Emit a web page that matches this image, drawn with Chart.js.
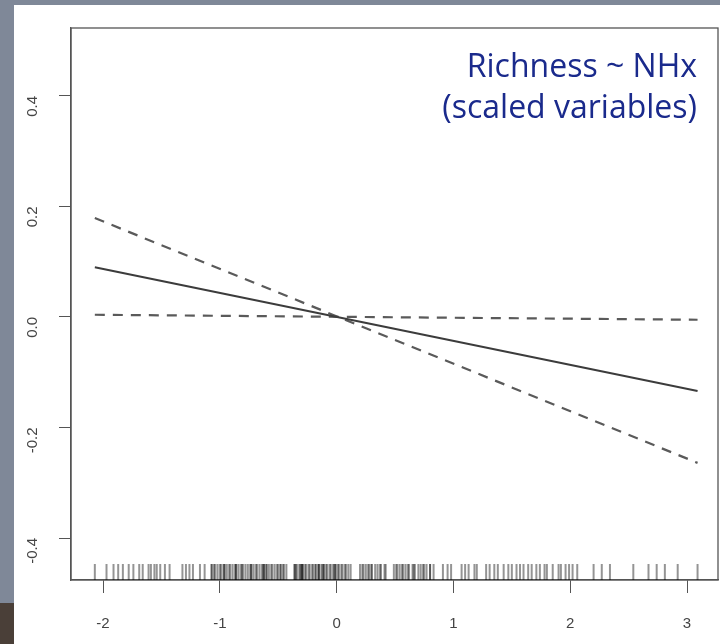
<!DOCTYPE html>
<html>
<head>
<meta charset="utf-8">
<script src="https://cdn.jsdelivr.net/npm/chart.js@4"></script>
<style>
  html, body { margin: 0; padding: 0; background: #fff; }
  #effect-chart { display: block; }
</style>
</head>
<body>
<canvas id="effect-chart" width="720" height="644"></canvas>
<script>
    // values
    const xTicks = [-2, -1, 0, 1, 2, 3];
    const yTicks = [-0.4, -0.2, 0.0, 0.2, 0.4];
    const lineX = [-2.07, 3.09];
    const fitY = [0.090, -0.134];
    const upperY = [0.179, -0.264];
    const lowerY = [0.004, -0.005];
    const rugX = [
        -2.07, -1.97, -1.91, -1.87, -1.83, -1.78, -1.74, -1.69, -1.66, -1.61, -1.59, -1.56,
        -1.54, -1.51, -1.47, -1.43, -1.32, -1.29, -1.26, -1.23, -1.17, -1.13, -1.07, -1.07,
        -1.05, -1.04, -1.02, -1.00, -0.99, -0.97, -0.96, -0.96, -0.94, -0.92, -0.91, -0.89,
        -0.87, -0.86, -0.86, -0.84, -0.82, -0.81, -0.80, -0.78, -0.76, -0.74, -0.73, -0.73,
        -0.71, -0.69, -0.68, -0.66, -0.64, -0.63, -0.62, -0.62, -0.60, -0.60, -0.58, -0.56,
        -0.55, -0.53, -0.51, -0.50, -0.48, -0.48, -0.46, -0.45, -0.43, -0.36, -0.36, -0.35,
        -0.34, -0.32, -0.31, -0.30, -0.30, -0.29, -0.29, -0.27, -0.26, -0.24, -0.23, -0.21,
        -0.20, -0.18, -0.18, -0.16, -0.15, -0.15, -0.13, -0.12, -0.11, -0.11, -0.09, -0.08,
        -0.06, -0.05, -0.03, -0.02, -0.01, -0.01, 0.01, 0.02, 0.04, 0.05, 0.07, 0.08, 0.10,
        0.12, 0.20, 0.22, 0.23, 0.25, 0.27, 0.28, 0.30, 0.30, 0.33, 0.35, 0.37, 0.38, 0.41,
        0.42, 0.49, 0.51, 0.52, 0.54, 0.56, 0.57, 0.59, 0.61, 0.62, 0.65, 0.66, 0.67, 0.70,
        0.72, 0.74, 0.75, 0.77, 0.80, 0.80, 0.83, 0.91, 0.95, 0.98, 1.07, 1.10, 1.13, 1.18,
        1.20, 1.28, 1.31, 1.35, 1.38, 1.43, 1.47, 1.50, 1.54, 1.57, 1.60, 1.64, 1.67, 1.71,
        1.74, 1.78, 1.80, 1.85, 1.90, 1.92, 1.96, 1.99, 2.02, 2.06, 2.20, 2.27, 2.34, 2.54,
        2.67, 2.74, 2.81, 2.92, 3.09
    ];
    const titleLines = ['Richness ~ NHx', '(scaled variables)'];

    const pts = (ys) => lineX.map((x, i) => ({ x: x, y: ys[i] }));

    const noPad = s => { s.paddingTop = 0; s.paddingBottom = 0; s.paddingLeft = 0; s.paddingRight = 0; };

    // slide background, plot box, rug and the blue note
    const decor = {
        id: 'decor',
        beforeDraw(chart) {
            const c = chart.ctx;
            c.save();
            c.fillStyle = '#fff';
            c.fillRect(0, 0, chart.width, chart.height);
            c.fillStyle = '#7f8898';
            c.fillRect(0, 0, chart.width, 5);
            c.fillRect(0, 0, 14, chart.height);
            c.fillStyle = '#4a3f38';
            c.fillRect(0, 603, 14, chart.height - 603);
            c.restore();
        },
        afterDraw(chart) {
            const c = chart.ctx;
            const a = chart.chartArea;
            const xs = chart.scales.x;
            c.save();
            c.strokeStyle = '#555';
            c.lineWidth = 1.3;
            c.strokeRect(a.left, a.top, a.right - a.left, a.bottom - a.top);

            c.strokeStyle = 'rgba(0,0,0,0.42)';
            c.lineWidth = 2;
            rugX.forEach(v => {
                const px = xs.getPixelForValue(v);
                c.beginPath();
                c.moveTo(px, a.bottom);
                c.lineTo(px, a.bottom - 16);
                c.stroke();
            });

            c.fillStyle = '#1a2a8c';
            c.font = '32px "Open Sans"';
            c.textAlign = 'right';
            c.textBaseline = 'alphabetic';
            c.fillText(titleLines[0], 697, 77);
            c.fillText(titleLines[1], 697, 118);
            c.restore();
        }
    };

    const tickFont = { family: '"Liberation Sans", Arial', size: 15 };

    new Chart(document.getElementById('effect-chart'), {
        type: 'scatter',
        data: {
            datasets: [{
                data: pts(fitY),
                showLine: true,
                borderColor: '#3c3c3c',
                borderWidth: 2,
                pointRadius: 0
            }, {
                data: pts(upperY),
                showLine: true,
                borderColor: '#5a5a5a',
                borderWidth: 2.2,
                borderDash: [10, 8],
                pointRadius: 0
            }, {
                data: pts(lowerY),
                showLine: true,
                borderColor: '#5a5a5a',
                borderWidth: 2.2,
                borderDash: [10, 8],
                pointRadius: 0
            }]
        },
        options: {
            responsive: false,
            animation: false,
            layout: { padding: { top: 28, right: 2, left: 0, bottom: 0 } },
            plugins: { legend: { display: false }, tooltip: { enabled: false } },
            scales: {
                x: {
                    type: 'linear',
                    min: -2.274,
                    max: 3.265,
                    afterBuildTicks: s => { s.ticks = xTicks.map(v => ({ value: v })); },
                    afterFit: s => { s.height = 64; noPad(s); },
                    grid: { drawOnChartArea: false, drawTicks: true, tickLength: 13, color: '#555' },
                    border: { display: true, color: '#555', width: 1.3 },
                    ticks: { font: tickFont, color: '#444', padding: 22, maxRotation: 0 }
                },
                y: {
                    type: 'linear',
                    min: -0.476,
                    max: 0.523,
                    afterBuildTicks: s => { s.ticks = yTicks.map(v => ({ value: v })); },
                    afterFit: s => { s.width = 71; noPad(s); },
                    grid: { drawOnChartArea: false, drawTicks: true, tickLength: 12, color: '#555' },
                    border: { display: true, color: '#555', width: 1.3 },
                    ticks: {
                        font: tickFont, color: '#444', padding: 26,
                        minRotation: 90, maxRotation: 90,
                        callback: v => v.toFixed(1)
                    }
                }
            }
        },
        plugins: [decor]
    });
</script>
</body>
</html>
